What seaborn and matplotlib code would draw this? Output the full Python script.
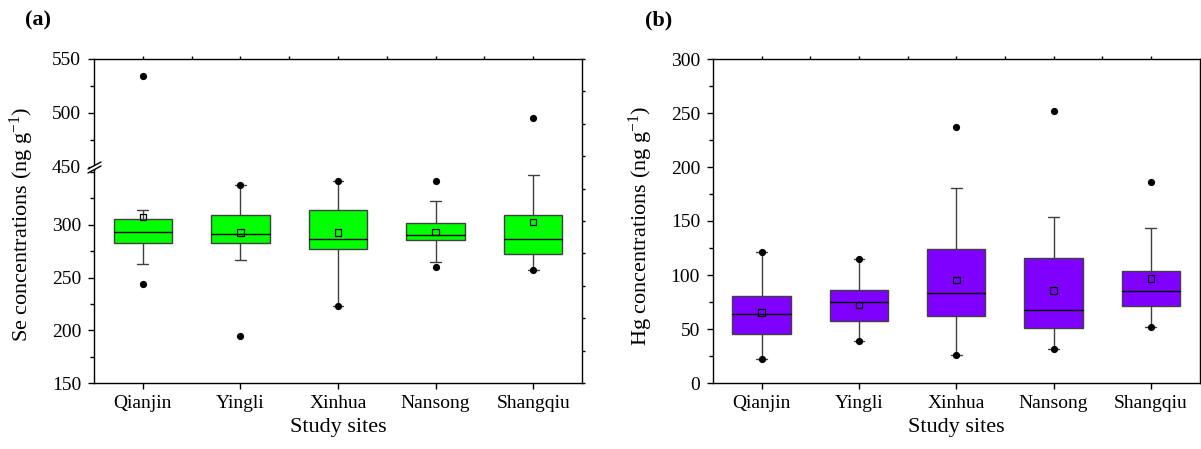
import numpy as np
import pandas as pd
import matplotlib
matplotlib.use("Agg")
import matplotlib.pyplot as plt
from matplotlib.lines import Line2D
from matplotlib.patches import Polygon
from matplotlib.ticker import MultipleLocator
import seaborn as sns

sites = ["Qianjin", "Yingli", "Xinhua", "Nansong", "Shangqiu"]

# ---------------- Se (ng g-1), panel (a) ----------------
se_low = [262.6, 267.0, 222.6, 264.8, 257.5]
se_q1 = [282.7, 282.7, 277.0, 285.8, 272.0]
se_med = [293.1, 291.2, 286.5, 290.6, 286.8]
se_q3 = [305.3, 309.7, 313.9, 302.2, 309.1]
se_high = [314.4, 337.7, 341.5, 322.4, 347.0]
se_mean = [307.5, 292.5, 292.8, 293.4, 302.5]
se_min = [244.0, 194.3, 222.6, 260.1, 257.5]
se_max = [534.5, 337.7, 341.5, 341.2, 495.7]

# ---------------- Hg (ng g-1), panel (b) ----------------
hg_low = [22.2, 39.2, 26.0, 31.2, 52.0]
hg_q1 = [45.0, 57.4, 62.0, 50.6, 71.0]
hg_med = [63.9, 74.7, 83.0, 67.6, 85.2]
hg_q3 = [80.5, 86.0, 123.8, 115.4, 103.4]
hg_high = [121.6, 114.8, 180.5, 154.0, 143.8]
hg_mean = [65.4, 72.2, 95.4, 85.5, 96.9]
hg_min = [22.2, 39.2, 26.0, 31.2, 52.0]
hg_max = [121.6, 114.8, 237.4, 252.2, 185.8]

se_color = "#00ff00"
hg_color = "#8000ff"

sns.set_style("ticks")
plt.rcParams["font.family"] = ["Liberation Serif", "DejaVu Serif"]
plt.rcParams["mathtext.fontset"] = "custom"
plt.rcParams["mathtext.rm"] = "Liberation Serif"
plt.rcParams["mathtext.it"] = "Liberation Serif"
plt.rcParams["axes.linewidth"] = 1.0
plt.rcParams["axes.edgecolor"] = "black"
plt.rcParams["text.color"] = "black"
plt.rcParams["axes.labelcolor"] = "black"
plt.rcParams["xtick.color"] = "black"
plt.rcParams["ytick.color"] = "black"

W, H = 1201, 449


def box_frame(low, q1, med, q3, high):
    # five values per site -> with whis=(0, 100) seaborn returns exactly these
    rows = []
    for i, s in enumerate(sites):
        for v in (low[i], q1[i], med[i], q3[i], high[i]):
            rows.append((s, v))
    return pd.DataFrame(rows, columns=["site", "value"])


def draw_panel(ax, boxes, mean, vmin, vmax, color):
    sns.boxplot(data=boxes, x="site", y="value", order=sites, whis=(0, 100),
                width=0.6, color=color, saturation=1, linecolor="#404040",
                linewidth=1.0, capwidths=0.11,
                medianprops={"color": "black"}, ax=ax)
    pts = pd.DataFrame({"site": sites + sites, "value": vmin + vmax})
    sns.scatterplot(data=pts, x="site", y="value", color="black", s=27,
                    edgecolor="black", linewidth=0, zorder=5, ax=ax)
    sns.scatterplot(x=sites, y=mean, marker="s", s=22, facecolor="none",
                    edgecolor="black", linewidth=0.9, zorder=6, ax=ax)


def style_ax(ax):
    ax.set_xlim(-0.5, 4.5)
    ax.set_xlabel("")
    ax.set_ylabel("")
    ax.yaxis.set_minor_locator(MultipleLocator(25))
    ax.tick_params(axis="both", which="major", labelsize=14, length=4.3,
                   width=1.0, direction="out", labelcolor="black")
    ax.tick_params(axis="y", which="minor", length=2.8, width=1.0,
                   direction="out", left=True)
    ax.tick_params(axis="y", pad=5)
    ax.tick_params(axis="x", pad=4)


def add_frame(rect, ny):
    fr = fig.add_axes(rect, facecolor="none")
    fr.set_xlim(-0.5, 4.5)
    fr.set_ylim(0, ny)
    fr.set_xticks(np.arange(0, 4.01, 0.5))
    fr.set_yticks(np.arange(0, ny + 0.1, 1))
    fr.tick_params(bottom=False, left=False, labelbottom=False, labelleft=False,
                   top=True, right=True, labeltop=False, labelright=False,
                   length=2.2, width=1.0, direction="out")
    fr.spines["left"].set_visible(False)
    fr.spines["bottom"].set_visible(False)
    fr.patch.set_visible(False)
    return fr


fig = plt.figure(figsize=(W / 100, H / 100), dpi=100)

# ---------------- panel (a): broken y axis ----------------
L, R = 94 / W, 582 / W
y_top, y_brk, y_bot = 59, 170, 383
ax_lo = fig.add_axes([L, 1 - y_bot / H, R - L, (y_bot - y_brk) / H])
ax_hi = fig.add_axes([L, 1 - y_brk / H, R - L, (y_brk - y_top) / H])
ax_hi.patch.set_visible(False)

se_boxes = box_frame(se_low, se_q1, se_med, se_q3, se_high)
draw_panel(ax_lo, se_boxes, se_mean, se_min, se_max, se_color)
pts_all = pd.DataFrame({"site": sites + sites, "value": se_min + se_max})
sns.scatterplot(data=pts_all, x="site", y="value", color="black", s=27,
                edgecolor="black", linewidth=0, zorder=5, ax=ax_hi)

ax_lo.set_ylim(150, 352)
ax_lo.set_yticks([150, 200, 250, 300])
ax_hi.set_ylim(447, 550)
ax_hi.set_yticks([450, 500, 550])
for a in (ax_lo, ax_hi):
    style_ax(a)
    a.spines["right"].set_visible(False)
    a.spines["top"].set_visible(False)
ax_hi.spines["bottom"].set_visible(False)
ax_hi.tick_params(axis="x", bottom=False, labelbottom=False)
ax_lo.set_xlabel("Study sites", fontsize=16, labelpad=5)

add_frame([L, 1 - y_bot / H, R - L, (y_bot - y_top) / H], 10)

# break marks on the left spine
bx0, bx1 = 88, 101
gap = 4
poly = Polygon([(bx0 / W, 1 - (y_brk + 3) / H), (bx1 / W, 1 - (y_brk - 4) / H),
                (bx1 / W, 1 - (y_brk - 4 - gap) / H), (bx0 / W, 1 - (y_brk + 3 - gap) / H)],
               closed=True, transform=fig.transFigure, facecolor="white",
               edgecolor="none", zorder=10)
fig.add_artist(poly)
for off in (0, gap):
    fig.add_artist(Line2D([bx0 / W, bx1 / W],
                          [1 - (y_brk + 3 - off) / H, 1 - (y_brk - 4 - off) / H],
                          transform=fig.transFigure, color="black", lw=1.0, zorder=11))

fig.text(22 / W, 1 - 224 / H, "Se concentrations (ng g$^{-1}$)", rotation=90,
         ha="center", va="center", fontsize=16)
fig.text(25 / W, 1 - 20 / H, "(a)", ha="left", va="center", fontsize=16,
         fontweight="bold")

# ---------------- panel (b) ----------------
L2, R2 = 713 / W, 1199.5 / W
ax_b = fig.add_axes([L2, 1 - y_bot / H, R2 - L2, (y_bot - y_top) / H])
hg_boxes = box_frame(hg_low, hg_q1, hg_med, hg_q3, hg_high)
draw_panel(ax_b, hg_boxes, hg_mean, hg_min, hg_max, hg_color)
ax_b.set_ylim(0, 300)
ax_b.set_yticks(np.arange(0, 301, 50))
style_ax(ax_b)
ax_b.spines["right"].set_visible(False)
ax_b.spines["top"].set_visible(False)
ax_b.set_xlabel("Study sites", fontsize=16, labelpad=5)
add_frame([L2, 1 - y_bot / H, R2 - L2, (y_bot - y_top) / H], 12)

fig.text(641 / W, 1 - 226 / H, "Hg concentrations (ng g$^{-1}$)", rotation=90,
         ha="center", va="center", fontsize=16)
fig.text(645 / W, 1 - 20 / H, "(b)", ha="left", va="center", fontsize=16,
         fontweight="bold")

fig.savefig("out.png", dpi=100)
